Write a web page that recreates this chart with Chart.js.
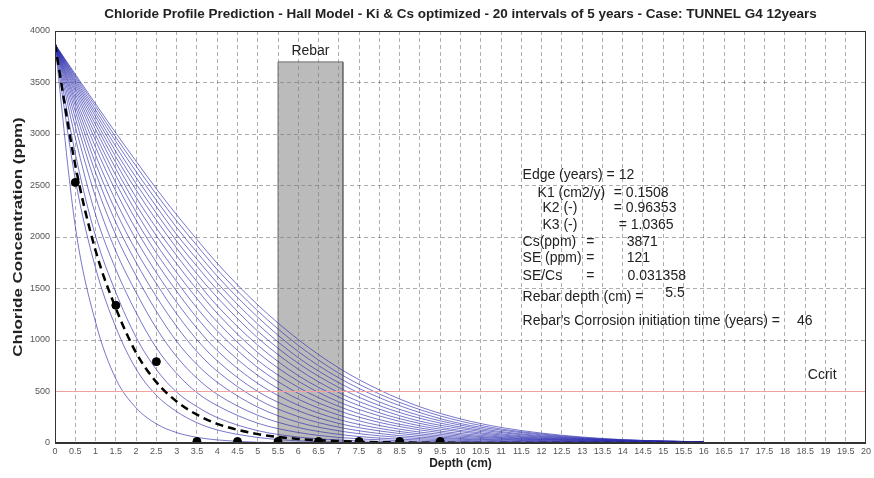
<!DOCTYPE html>
<html>
<head>
<meta charset="utf-8">
<script src="https://cdn.jsdelivr.net/npm/chart.js@4.4.1/dist/chart.umd.min.js"></script>
<style>
  html, body { margin: 0; padding: 0; background: #fff; }
</style>
</head>
<body>
<canvas id="myChart" width="874" height="478"></canvas>
<script>
// depth grid (cm) shared by every predicted profile
const depth = [0, 0.5, 1, 1.5, 2, 2.5, 3, 3.5, 4, 5, 6, 7, 8, 9, 10, 11, 12, 13, 14, 15, 16];

// predicted chloride profiles (ppm), one per 5 year interval
const p5   = [3871, 2105, 1173, 623, 341, 186, 101, 55, 30, 7, 2, 0, 0, 0, 0, 0, 0, 0, 0, 0, 0];
const p10  = [3871, 2562, 1700, 1124, 718, 463, 305, 197, 127, 54, 21, 9, 3, 1, 0, 0, 0, 0, 0, 0, 0];
const p15  = [3871, 2811, 2009, 1462, 1027, 713, 494, 353, 247, 120, 58, 29, 14, 6, 3, 1, 0, 0, 0, 0, 0];
const p20  = [3871, 2965, 2217, 1685, 1267, 923, 676, 489, 363, 192, 102, 54, 31, 16, 9, 4, 2, 1, 0, 0, 0];
const p25  = [3871, 3073, 2389, 1862, 1461, 1114, 838, 629, 473, 269, 150, 84, 48, 29, 16, 9, 5, 3, 2, 1, 0];
const p30  = [3871, 3157, 2522, 2018, 1623, 1279, 987, 762, 590, 348, 201, 118, 70, 42, 26, 15, 9, 5, 3, 1, 0];
const p35  = [3871, 3222, 2626, 2141, 1753, 1421, 1131, 888, 697, 424, 256, 153, 92, 56, 36, 22, 14, 9, 5, 3, 2];
const p40  = [3871, 3275, 2715, 2251, 1867, 1547, 1254, 1003, 798, 500, 313, 190, 117, 72, 44, 30, 19, 12, 8, 4, 3];
const p45  = [3871, 3318, 2795, 2351, 1975, 1653, 1367, 1114, 897, 578, 367, 228, 142, 88, 55, 36, 24, 15, 11, 7, 4];
const p50  = [3871, 3354, 2872, 2445, 2073, 1755, 1473, 1216, 994, 656, 425, 271, 170, 106, 67, 44, 30, 20, 12, 9, 6];
const p55  = [3871, 3392, 2938, 2526, 2164, 1845, 1568, 1311, 1088, 733, 482, 313, 200, 127, 79, 51, 34, 23, 16, 10, 8];
const p60  = [3871, 3423, 2992, 2597, 2243, 1928, 1655, 1403, 1176, 802, 541, 355, 227, 146, 92, 59, 38, 27, 18, 12, 9];
const p65  = [3871, 3449, 3045, 2662, 2315, 2012, 1740, 1490, 1259, 878, 600, 399, 263, 167, 109, 68, 45, 29, 21, 14, 9];
const p70  = [3871, 3474, 3090, 2722, 2385, 2087, 1819, 1567, 1332, 950, 654, 445, 293, 190, 122, 78, 49, 33, 22, 15, 11];
const p75  = [3871, 3496, 3130, 2778, 2456, 2163, 1892, 1641, 1414, 1020, 716, 489, 329, 212, 140, 88, 56, 36, 23, 17, 11];
const p80  = [3871, 3515, 3169, 2829, 2517, 2231, 1960, 1715, 1487, 1086, 774, 539, 363, 240, 155, 101, 63, 40, 25, 17, 12];
const p85  = [3871, 3533, 3202, 2879, 2577, 2296, 2025, 1785, 1555, 1154, 828, 585, 399, 266, 173, 111, 70, 44, 27, 17, 12];
const p90  = [3871, 3551, 3234, 2927, 2634, 2357, 2092, 1852, 1621, 1222, 888, 632, 440, 295, 189, 125, 79, 47, 29, 18, 12];
const p95  = [3871, 3566, 3267, 2968, 2689, 2414, 2156, 1917, 1685, 1283, 948, 678, 476, 324, 212, 136, 87, 52, 31, 18, 11];
const p100 = [3871, 3581, 3293, 3010, 2736, 2468, 2216, 1976, 1745, 1341, 1004, 728, 515, 351, 234, 151, 96, 58, 33, 19, 10];
const years = [5, 10, 15, 20, 25, 30, 35, 40, 45, 50, 55, 60, 65, 70, 75, 80, 85, 90, 95, 100];
const profiles = [p5, p10, p15, p20, p25, p30, p35, p40, p45, p50, p55, p60, p65, p70, p75, p80, p85, p90, p95, p100];

// fitted profile at the edge age (12 years)
const fit12 = [3871, 2698, 1869, 1308, 877, 591, 403, 275, 186, 86, 40, 18, 8, 3, 1, 0, 0, 0, 0, 0, 0];

// measured chloride content
const measDepth = [0.5, 1.5, 2.5, 3.5, 4.5, 5.5, 6.5, 7.5, 8.5, 9.5];
const measConc = [2530, 1337, 790, 15, 15, 15, 15, 15, 15, 15];

const ccrit = 500;
const rebarDepth = [5.5, 7.1];
const rebarTop = 3700;

const xTicks = [0, 0.5, 1, 1.5, 2, 2.5, 3, 3.5, 4, 4.5, 5, 5.5, 6, 6.5, 7, 7.5, 8, 8.5, 9, 9.5, 10,
                10.5, 11, 11.5, 12, 12.5, 13, 13.5, 14, 14.5, 15, 15.5, 16, 16.5, 17, 17.5, 18, 18.5, 19, 19.5, 20];
const yTicks = [0, 500, 1000, 1500, 2000, 2500, 3000, 3500, 4000];

const titleText = 'Chloride Profile Prediction - Hall Model - Ki & Cs optimized - 20 intervals of 5 years - Case: TUNNEL G4 12years';
const yTitle = 'Chloride Concentration (ppm)';

// text placed in data coordinates [text, depth, ppm]
const notes = [
    ['Edge (years) = 12', 11.53, 2602],
    ['K1 (cm2/y)', 11.90, 2427], ['= 0.1508', 13.78, 2427],
    ['K2 (-)', 12.02, 2282], ['= 0.96353', 13.78, 2282],
    ['K3 (-)', 12.02, 2117], ['= 1.0365', 13.9, 2117],
    ['Cs(ppm)', 11.53, 1951], ['=', 13.1, 1951], ['3871', 14.1, 1951],
    ['SE (ppm)', 11.53, 1796], ['=', 13.1, 1796], ['121', 14.1, 1796],
    ['SE/Cs', 11.53, 1621], ['=', 13.1, 1621], ['0.031358', 14.12, 1621],
    ['Rebar depth (cm) =', 11.53, 1417], ['5.5', 15.05, 1456],
    ["Rebar's Corrosion initiation time (years) =", 11.53, 1184], ['46', 18.3, 1184]
];

const toXY = (xs, ys) => xs.map((x, i) => ({ x: x, y: ys[i] }));

// dataset 0 is drawn on top, the last one at the bottom
const datasets = [];
datasets.push({
    label: 'Measured', data: toXY(measDepth, measConc), showLine: false,
    pointRadius: 4, pointBackgroundColor: '#000', pointBorderColor: '#000'
});
datasets.push({
    label: '12 years', data: toXY(depth, fit12), borderColor: '#000', borderWidth: 2.5,
    borderDash: [8, 5], pointRadius: 0, cubicInterpolationMode: 'monotone'
});
datasets.push({
    label: 'Ccrit', data: [{ x: 0, y: ccrit }, { x: 20, y: ccrit }],
    borderColor: '#f2a0a0', borderWidth: 1, pointRadius: 0
});
profiles.forEach((p, i) => {
    datasets.push({
        label: years[i] + ' years', data: toXY(depth, p),
        borderColor: 'rgba(45,45,175,0.72)', borderWidth: 0.9,
        pointRadius: 0, cubicInterpolationMode: 'monotone'
    });
});
datasets.push({
    label: 'Rebar',
    data: [{ x: rebarDepth[0], y: 0 }, { x: rebarDepth[0], y: rebarTop }, { x: rebarDepth[1], y: rebarTop }, { x: rebarDepth[1], y: 0 }],
    borderColor: '#6e6e6e', borderWidth: 1, backgroundColor: 'rgba(125,125,125,0.52)',
    fill: 'origin', pointRadius: 0, tension: 0
});

const decor = {
    id: 'decor',
    afterDraw(chart) {
        const { ctx, chartArea: a, scales: { x, y } } = chart;
        ctx.save();
        ctx.strokeStyle = '#333';
        ctx.lineWidth = 1;
        ctx.strokeRect(a.left + 0.5, a.top + 0.5, a.right - a.left - 1, a.bottom - a.top - 1);

        ctx.fillStyle = '#222';
        ctx.textAlign = 'center';
        ctx.textBaseline = 'middle';
        ctx.font = 'bold 13.5px "Liberation Sans", Arial, sans-serif';
        ctx.fillText(titleText, (a.left + a.right) / 2, 14);

        // y axis title, stretched along its length like the source image
        ctx.font = 'bold 13px "Liberation Sans", Arial, sans-serif';
        ctx.save();
        ctx.translate(18, (a.top + a.bottom) / 2);
        ctx.rotate(-Math.PI / 2);
        ctx.scale(1.3, 1);
        ctx.fillText(yTitle, 0, 0);
        ctx.restore();

        ctx.font = '14px "Liberation Sans", Arial, sans-serif';
        ctx.fillText('Rebar', x.getPixelForValue((rebarDepth[0] + rebarDepth[1]) / 2), y.getPixelForValue(3800));
        ctx.fillText('Ccrit', x.getPixelForValue(18.92), y.getPixelForValue(660));

        ctx.textAlign = 'left';
        notes.forEach(n => ctx.fillText(n[0], x.getPixelForValue(n[1]), y.getPixelForValue(n[2])));
        ctx.restore();
    }
};

const gridStyle = { color: 'rgba(0,0,0,0.32)', drawTicks: false, lineWidth: 1 };
const borderStyle = { display: true, color: '#333', dash: [4, 3] };

const ctx = document.getElementById('myChart').getContext('2d');
new Chart(ctx, {
    type: 'line',
    data: { datasets: datasets },
    options: {
        responsive: false,
        animation: false,
        layout: { padding: { top: 31, right: 4, left: 0, bottom: 0 } },
        plugins: { legend: { display: false }, tooltip: { enabled: false }, title: { display: false } },
        scales: {
            x: {
                type: 'linear', min: 0, max: 20,
                afterBuildTicks: s => { s.ticks = xTicks.map(v => ({ value: v })); },
                afterFit: s => { s.height = 35; },
                ticks: { autoSkip: false, maxRotation: 0, minRotation: 0, padding: 3,
                         font: { size: 9 }, color: '#555', callback: v => String(v) },
                grid: gridStyle, border: borderStyle,
                title: { display: true, text: 'Depth (cm)', color: '#222',
                         font: { size: 12, weight: 'bold' }, padding: { top: 0, bottom: 7 } }
            },
            y: {
                type: 'linear', min: 0, max: 4000,
                afterBuildTicks: s => { s.ticks = yTicks.map(v => ({ value: v })); },
                afterFit: s => { s.width = 55; },
                ticks: { padding: 5, font: { size: 9 }, color: '#555', callback: v => String(v) },
                grid: gridStyle, border: borderStyle
            }
        }
    },
    plugins: [decor]
});
</script>
</body>
</html>
